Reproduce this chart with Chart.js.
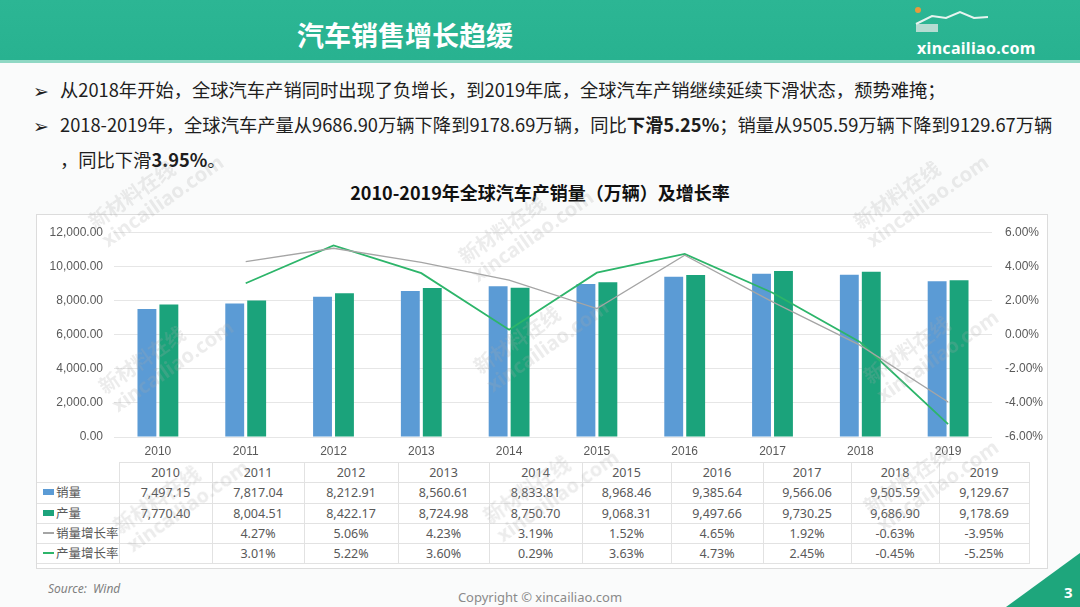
<!DOCTYPE html>
<html>
<head>
<meta charset="utf-8">
<script src="https://cdn.jsdelivr.net/npm/chart.js@4"></script>
<style>
  html, body { margin: 0; padding: 0; }
  body {
    width: 1080px; height: 607px; overflow: hidden; position: relative;
    background: #fafbfb;
    font-family: "Noto Sans", "Noto Sans CJK SC", sans-serif;
    color: #222;
  }
  .header {
    position: absolute; left: 0; top: 0; width: 1080px; height: 60px;
    background: linear-gradient(#2cb694, #28b290);
    border-bottom: 3px solid #8fd8c4;
  }
  .header .title {
    position: absolute; left: 297px; top: 21px;
    font-family: "Noto Sans CJK SC", sans-serif;
    font-size: 27px; font-weight: bold; color: #fff; line-height: 1;
  }
  .header .logo {
    position: absolute; left: 917px; top: 37px;
    font-size: 16px; font-weight: bold; color: #fff; letter-spacing: 0.3px;
  }
  .bullets {
    position: absolute; left: 33px; top: 73px;
    font-family: "Noto Sans CJK SC", sans-serif;
    font-size: 18.3px; line-height: 33px; white-space: nowrap; color: #1e1e1e;
  }
  .bullets .mk { display: inline-block; width: 27px; font-size: 19px; font-family: "DejaVu Sans", sans-serif; vertical-align: -1px; }
  .bullets .indent { padding-left: 27px; }
  .ctitle {
    position: absolute; left: 0; width: 1080px; top: 179px; text-align: center;
    font-family: "Noto Sans CJK SC", sans-serif;
    font-size: 18px; font-weight: bold; color: #111;
  }
  .frame {
    position: absolute; left: 36px; top: 214px; width: 1010px; height: 353px;
    border: 1px solid #dcdcdc; background: #fff;
  }
  #chartBox { position: absolute; left: 35px; top: 212px; width: 1012px; height: 250px; }
  table.data {
    position: absolute; left: 37px; top: 462px;
    border-collapse: collapse; table-layout: fixed;
    font-size: 12.5px; color: #595959;
    font-family: "Noto Sans", "Noto Sans CJK SC", sans-serif;
  }
  table.data td { height: 19.3px; padding: 0; line-height: 19px; text-align: center; border: 1px solid #e2e2e2; white-space: nowrap; }
  table.data td.lab { text-align: left; border-left: none; padding-left: 6px; }
  table.data tr:first-child td.lab { border: none; border-right: 1px solid #e2e2e2; }
  .key { display: inline-block; width: 11px; height: 6px; margin-right: 2px; vertical-align: 2px; }
  .lkey { display: inline-block; width: 11px; height: 2px; margin-right: 2px; vertical-align: 4px; }
  .wm {
    position: absolute; transform: rotate(-35deg); transform-origin: left top;
    color: rgba(170,170,170,0.22); font-weight: bold; font-size: 20px; line-height: 22px;
    white-space: nowrap; pointer-events: none;
  }
  .source { position: absolute; left: 48px; top: 580px; font-size: 12px; font-style: italic; color: #7f7f7f; }
  .copy { position: absolute; left: 0; width: 1080px; top: 588px; text-align: center; font-size: 13px; color: #8a8a8a; }
  .corner { position: absolute; right: 0; bottom: 0; width: 0; height: 0;
    border-style: solid; border-width: 0 0 54px 74px; border-color: transparent transparent #1ea67c transparent; }
  .pnum { position: absolute; left: 1064px; top: 582px; color: #fff; font-weight: bold; font-size: 15px; }
</style>
</head>
<body>
<div class="header">
  <div class="title">汽车销售增长趋缓</div>
  <svg style="position:absolute;left:910px;top:4px" width="110" height="30">
    <circle cx="8" cy="6" r="3" fill="#e89a3c"/>
    <polyline points="6,20 22,12 36,14 50,8 64,14 78,13" fill="none" stroke="#e8f4f0" stroke-width="2"/>
    <rect x="6" y="20" width="22" height="8" fill="#d8e6e2" opacity="0.8"/>
  </svg>
  <div class="logo">xincailiao.com</div>
</div>

<div class="bullets">
  <div><span class="mk">➢</span>从2018年开始，全球汽车产销同时出现了负增长，到2019年底，全球汽车产销继续延续下滑状态，颓势难掩；</div>
  <div><span class="mk">➢</span>2018-2019年，全球汽车产量从9686.90万辆下降到9178.69万辆，同比<b>下滑5.25%</b>；销量从9505.59万辆下降到9129.67万辆</div>
  <div class="indent">，同比下滑<b>3.95%</b>。</div>
</div>

<div class="ctitle">2010-2019年全球汽车产销量（万辆）及增长率</div>

<div class="frame"></div>
<div id="chartBox"><canvas id="mainChart" width="1012" height="250"></canvas></div>
<table class="data" id="dataTable"></table>

<div class="source">Source:&nbsp; Wind</div>
<div class="copy">Copyright © xincailiao.com</div>
<div class="corner"></div>
<div class="pnum">3</div>

<script>
// values
const years = ['2010', '2011', '2012', '2013', '2014', '2015', '2016', '2017', '2018', '2019'];
const salesVolume = [7497.15, 7817.04, 8212.91, 8560.61, 8833.81, 8968.46, 9385.64, 9566.06, 9505.59, 9129.67];
const productionVolume = [7770.40, 8004.51, 8422.17, 8724.98, 8750.70, 9068.31, 9497.66, 9730.25, 9686.90, 9178.69];
const salesGrowth = [null, 4.27, 5.06, 4.23, 3.19, 1.52, 4.65, 1.92, -0.63, -3.95];
const productionGrowth = [null, 3.01, 5.22, 3.60, 0.29, 3.63, 4.73, 2.45, -0.45, -5.25];

const seriesNames = ['销量', '产量', '销量增长率', '产量增长率'];
const seriesColors = ['#5b9bd5', '#1ba37b', '#a5a5a5', '#2db56a'];

// table column widths (px)
const colWidths = [76, 93, 92, 94, 91, 93, 89, 92, 88, 88, 90];

const fmtNum = v => v.toLocaleString('en-US', { minimumFractionDigits: 2, maximumFractionDigits: 2 });
const fmtPct = v => (v === null ? '' : v.toFixed(2) + '%');

function buildTable() {
    const t = document.getElementById('dataTable');
    let html = '<colgroup>' + colWidths.map(w => `<col style="width:${w}px">`).join('') + '</colgroup>';
    html += '<tr><td class="lab"></td>' + years.map(y => `<td>${y}</td>`).join('') + '</tr>';
    const rows = [salesVolume, productionVolume, salesGrowth, productionGrowth];
    rows.forEach((row, i) => {
        const key = i < 2
            ? `<span class="key" style="background:${seriesColors[i]}"></span>`
            : `<span class="lkey" style="background:${seriesColors[i]}"></span>`;
        const cells = row.map(v => `<td>${i < 2 ? fmtNum(v) : fmtPct(v)}</td>`).join('');
        html += `<tr><td class="lab">${key}${seriesNames[i]}</td>${cells}</tr>`;
    });
    t.innerHTML = html;
}

function addWatermarks() {
    const spots = [[85, 215], [455, 250], [850, 215], [95, 380], [470, 360], [860, 370], [110, 520], [480, 510], [860, 500]];
    spots.forEach(([x, y]) => {
        const d = document.createElement('div');
        d.className = 'wm';
        d.style.left = x + 'px';
        d.style.top = y + 'px';
        d.innerHTML = '新材料在线<br>xincailiao.com';
        document.body.appendChild(d);
    });
}

function initChart() {
    const ctx = document.getElementById('mainChart');
    new Chart(ctx, {
        data: {
            labels: years,
            datasets: [
                {
                    type: 'line', label: seriesNames[2], data: salesGrowth, yAxisID: 'y1',
                    borderColor: seriesColors[2], borderWidth: 1.3, pointRadius: 0, tension: 0, order: 0
                },
                {
                    type: 'line', label: seriesNames[3], data: productionGrowth, yAxisID: 'y1',
                    borderColor: seriesColors[3], borderWidth: 1.8, pointRadius: 0, tension: 0, order: 0
                },
                {
                    type: 'bar', label: seriesNames[0], data: salesVolume, yAxisID: 'y',
                    backgroundColor: seriesColors[0], categoryPercentage: 0.5, barPercentage: 0.86, order: 1
                },
                {
                    type: 'bar', label: seriesNames[1], data: productionVolume, yAxisID: 'y',
                    backgroundColor: seriesColors[1], categoryPercentage: 0.5, barPercentage: 0.86, order: 1
                }
            ]
        },
        options: {
            responsive: false,
            animation: false,
            layout: { padding: { top: 13, bottom: 0, left: 0, right: 0 } },
            plugins: { legend: { display: false }, tooltip: { enabled: false } },
            scales: {
                x: {
                    grid: { display: false, drawTicks: false },
                    border: { display: false },
                    ticks: { color: '#595959', font: { size: 12 }, padding: 7, maxRotation: 0 },
                    afterFit: s => { s.height = 25; }
                },
                y: {
                    position: 'left', min: 0, max: 12000,
                    ticks: { stepSize: 2000, color: '#595959', font: { size: 12 }, padding: 11, callback: v => fmtNum(v) },
                    grid: { color: '#e6e6e6', drawTicks: false },
                    border: { display: false },
                    afterFit: s => { s.width = 79; }
                },
                y1: {
                    position: 'right', min: -6, max: 6,
                    ticks: { stepSize: 2, color: '#595959', font: { size: 12 }, padding: 13, callback: v => v.toFixed(2) + '%' },
                    grid: { drawOnChartArea: false, drawTicks: false },
                    border: { display: false },
                    afterFit: s => { s.width = 55; }
                }
            }
        }
    });
}

buildTable();
addWatermarks();
initChart();
</script>
</body>
</html>
